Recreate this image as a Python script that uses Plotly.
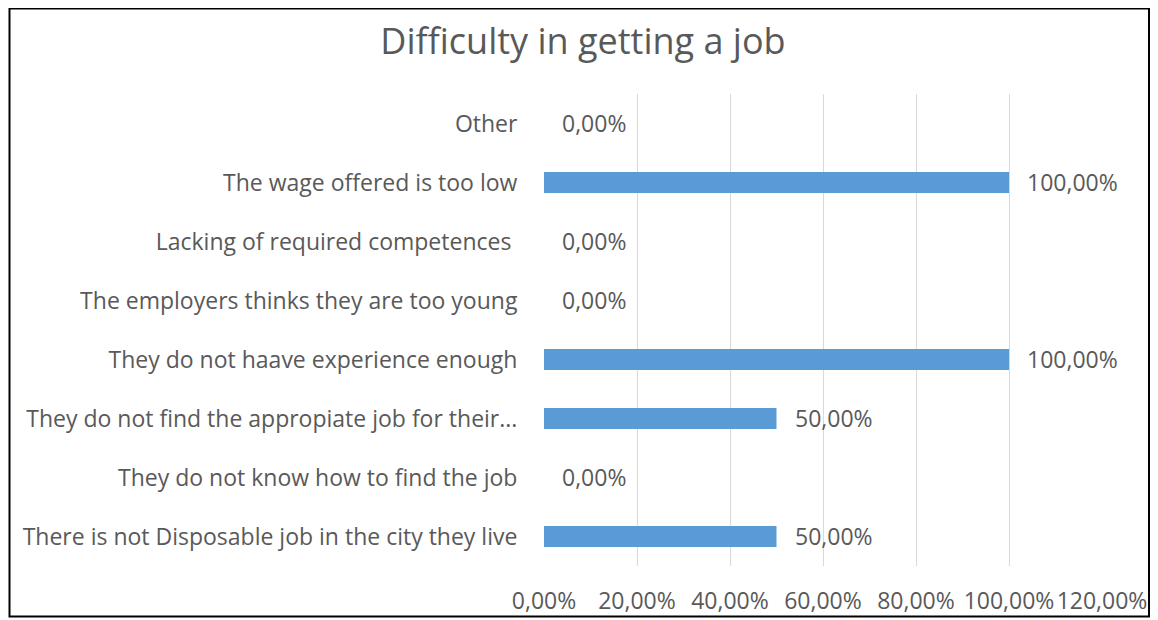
import plotly.graph_objects as go

categories = [
    "Other",
    "The wage offered is too low",
    "Lacking of required competences\u00a0",
    "The employers thinks they are too young",
    "They do not haave experience enough",
    "They do not find the appropiate job for their...",
    "They do not know how to find the job",
    "There is not Disposable job in the city they live",
]
values = [0.0, 1.0, 0.0, 0.0, 1.0, 0.5, 0.0, 0.5]
tick_vals = [0, 0.2, 0.4, 0.6, 0.8, 1.0, 1.2]
tick_text = ["0,00%", "20,00%", "40,00%", "60,00%", "80,00%", "100,00%", "120,00%"]

# page body has an 8px margin; figure is placed at (8, 8)
OFF = 8
W, H = 1150, 612
L, R, T, B = 536, 56, 86, 54
FONT = "Open Sans"
GRAY = "#595959"
FS = 23

def fmt(v):
    return f"{v*100:.2f}%".replace(".", ",")

fig = go.Figure()
fig.add_trace(go.Bar(
    x=values, y=categories, orientation="h",
    marker=dict(color="#5B9BD5", line=dict(width=0)),
    width=0.36, hoverinfo="skip",
))

for c, v in zip(categories, values):
    fig.add_annotation(
        x=v, y=c, xref="x", yref="y", text=fmt(v), showarrow=False,
        xanchor="left", yanchor="middle", xshift=16, yshift=1,
        font=dict(family=FONT, size=FS, color=GRAY),
    )

pw = W - L - R
ph = H - T - B
def px2paper_x(px):
    return (px - OFF - L) / pw
def px2paper_y(py):
    return (H - B - (py - OFF)) / ph

fig.add_shape(
    type="rect", xref="paper", yref="paper",
    x0=px2paper_x(9.5), x1=px2paper_x(1149), y0=px2paper_y(616.5), y1=px2paper_y(8.5),
    line=dict(color="black", width=2), fillcolor="rgba(0,0,0,0)", layer="below",
)

fig.update_layout(
    width=W, height=H,
    margin=dict(l=L, r=R, t=T, b=B, autoexpand=False),
    paper_bgcolor="white", plot_bgcolor="white",
    showlegend=False,
    title=dict(
        text="Difficulty in getting a job", x=0.5, xanchor="center", xref="container",
        y=1 - (41 - OFF) / H, yanchor="middle", yref="container",
        font=dict(family=FONT, size=36, color=GRAY),
    ),
    xaxis=dict(
        range=[0, 1.2], tickvals=tick_vals, ticktext=tick_text,
        showgrid=True, gridcolor="#D9D9D9", gridwidth=1,
        zeroline=False, showline=False, automargin=False,
        ticks="outside", ticklen=14, tickcolor="rgba(0,0,0,0)",
        tickfont=dict(family=FONT, size=FS, color=GRAY),
        fixedrange=True,
    ),
    yaxis=dict(
        autorange="reversed", showgrid=False, zeroline=False, showline=False,
        automargin=False,
        ticks="outside", ticklen=21, tickcolor="rgba(0,0,0,0)",
        tickfont=dict(family=FONT, size=FS, color=GRAY),
        fixedrange=True,
    ),
    font=dict(family=FONT, color=GRAY),
)

fig.write_html("out.html")
